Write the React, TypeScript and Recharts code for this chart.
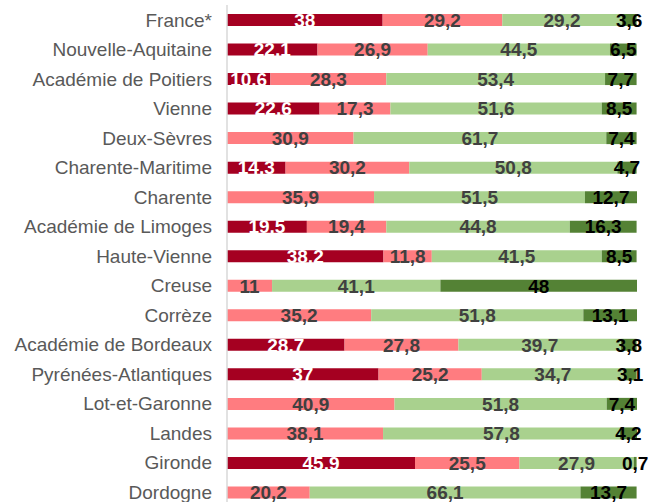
import { BarChart, Bar, XAxis, YAxis, LabelList } from "recharts"

// territoires, de haut en bas
const territoires = [
  "France*",
  "Nouvelle-Aquitaine",
  "Académie de Poitiers",
  "Vienne",
  "Deux-Sèvres",
  "Charente-Maritime",
  "Charente",
  "Académie de Limoges",
  "Haute-Vienne",
  "Creuse",
  "Corrèze",
  "Académie de Bordeaux",
  "Pyrénées-Atlantiques",
  "Lot-et-Garonne",
  "Landes",
  "Gironde",
  "Dordogne",
]

// parts en % (null = pas de segment)
const partRougeFonce = [38, 22.1, 10.6, 22.6, null, 14.3, null, 19.5, 38.2, null, null, 28.7, 37, null, null, 45.9, null]
const partRougeClair = [29.2, 26.9, 28.3, 17.3, 30.9, 30.2, 35.9, 19.4, 11.8, 11, 35.2, 27.8, 25.2, 40.9, 38.1, 25.5, 20.2]
const partVertClair = [29.2, 44.5, 53.4, 51.6, 61.7, 50.8, 51.5, 44.8, 41.5, 41.1, 51.8, 39.7, 34.7, 51.8, 57.8, 27.9, 66.1]
const partVertFonce = [3.6, 6.5, 7.7, 8.5, 7.4, 4.7, 12.7, 16.3, 8.5, 48, 13.1, 3.8, 3.1, 7.4, 4.2, 0.7, 13.7]

const data = territoires.map((name, i) => ({
  name,
  a: partRougeFonce[i],
  b: partRougeClair[i],
  c: partVertClair[i],
  d: partVertFonce[i],
}))

const fmt = (v: any) => (v == null || v === 0 ? "" : String(v).replace(".", ","))

const labelStyle = { fontSize: 19, fontWeight: 700, fontFamily: "Liberation Sans, Arial, sans-serif" }

export default function App() {
  return (
    <div style={{ position: "absolute", left: 0, top: 0, background: "#fff" }}>
      <BarChart
        width={650}
        height={512}
        data={data}
        layout="vertical"
        barSize={12}
        margin={{ top: 5, right: 13, left: 0, bottom: 5 }}
      >
        <XAxis type="number" domain={[0, 100]} hide />
        <YAxis
          type="category"
          dataKey="name"
          width={227}
          tickLine={false}
          tickMargin={9}
          axisLine={{ stroke: "#d9d9d9", strokeWidth: 1.5 }}
          tick={{ fill: "#595959", fontSize: 19, fontFamily: "Liberation Sans, Arial, sans-serif" }}
          interval={0}
        />
        <Bar dataKey="a" stackId="s" fill="#a50021" isAnimationActive={false}>
          <LabelList dataKey="a" position="center" formatter={fmt} fill="#ffffff" style={labelStyle} />
        </Bar>
        <Bar dataKey="b" stackId="s" fill="#ff7c80" isAnimationActive={false}>
          <LabelList dataKey="b" position="center" formatter={fmt} fill="#404040" style={labelStyle} />
        </Bar>
        <Bar dataKey="c" stackId="s" fill="#a9d18e" isAnimationActive={false}>
          <LabelList dataKey="c" position="center" formatter={fmt} fill="#404040" style={labelStyle} />
        </Bar>
        <Bar dataKey="d" stackId="s" fill="#548235" isAnimationActive={false}>
          <LabelList dataKey="d" position="center" formatter={fmt} fill="#000000" style={labelStyle} />
        </Bar>
      </BarChart>
    </div>
  )
}
